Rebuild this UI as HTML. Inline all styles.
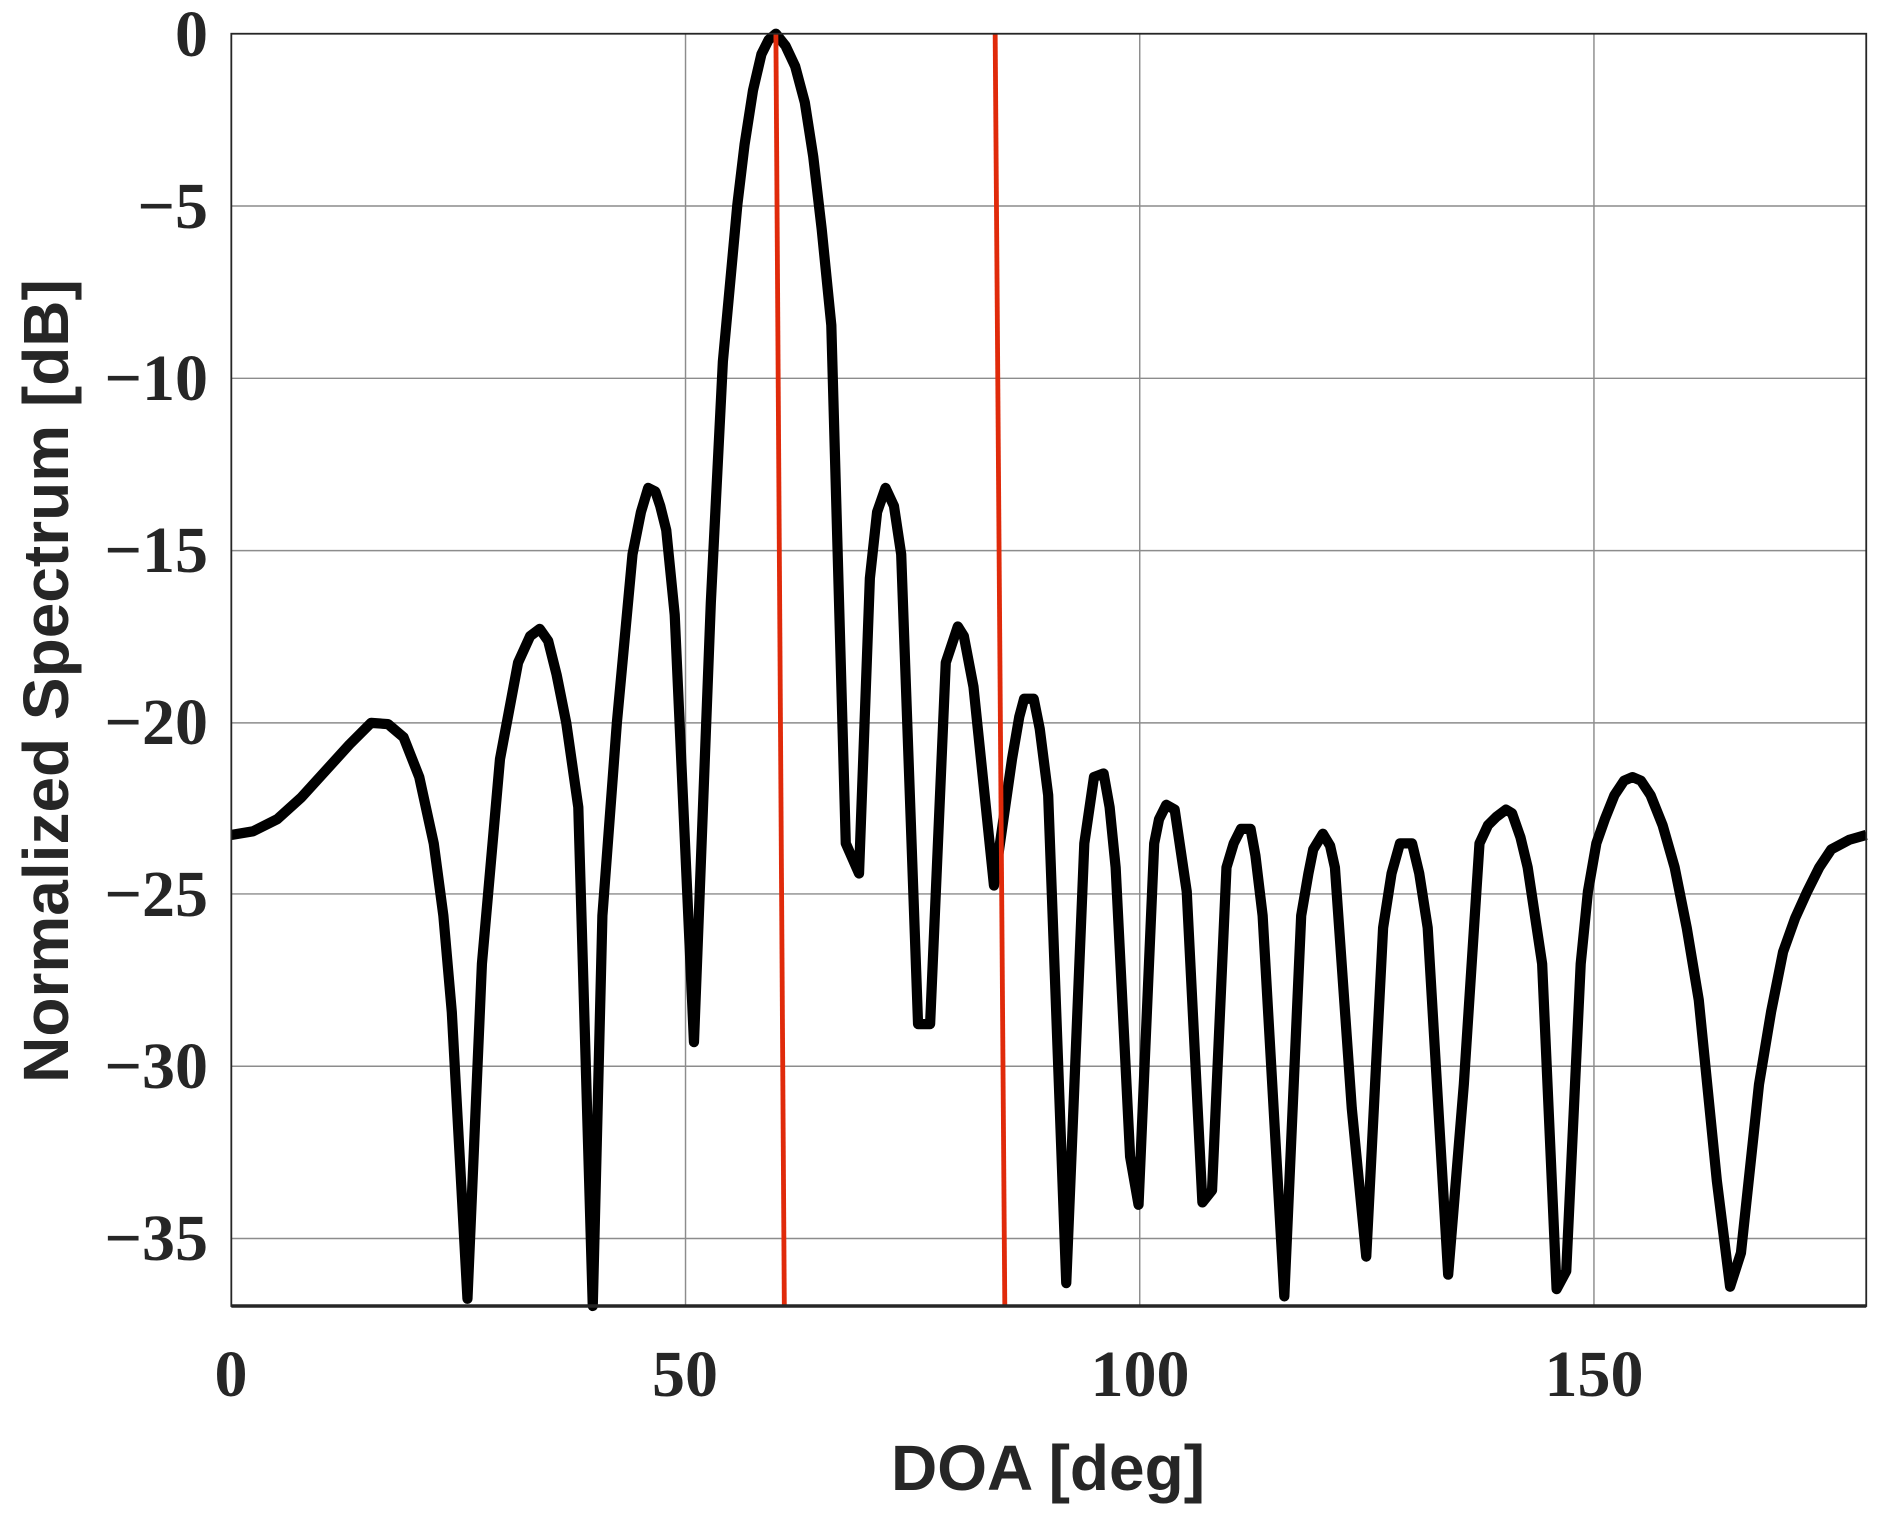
<!DOCTYPE html>
<html><head><style>body{margin:0;background:#fff}svg{display:block}</style></head>
<body>
<svg width="1880" height="1513" viewBox="0 0 1880 1513" xmlns="http://www.w3.org/2000/svg">
<rect width="1880" height="1513" fill="#fff"/>
<g transform="scale(1.2048)">
<g stroke="#8c8c8c" stroke-width="1.2">
<line x1="569" y1="28" x2="569" y2="1084"/><line x1="946" y1="28" x2="946" y2="1084"/><line x1="1323" y1="28" x2="1323" y2="1084"/>
<line x1="192" y1="171" x2="1549" y2="171"/><line x1="192" y1="314" x2="1549" y2="314"/><line x1="192" y1="457" x2="1549" y2="457"/>
<line x1="192" y1="600" x2="1549" y2="600"/><line x1="192" y1="742" x2="1549" y2="742"/><line x1="192" y1="885" x2="1549" y2="885"/><line x1="192" y1="1028" x2="1549" y2="1028"/>
</g>
<polyline fill="none" stroke="#000" stroke-width="8.5" stroke-linejoin="round" points="192,693 210,690 230,680 250,662 270,640 290,618 308,600 322,601 335,612 348,645 360,700 368,760 375,840 388,1078 400,800 415,630 430,550 440,528 448,522 455,532 462,560 470,600 480,670 492,1084 500,760 512,600 525,460 532,425 538,405 544,408 548,420 553,440 560,510 576,865 590,500 600,300 612,170 618,120 625,75 632,45 638,33 644,28 652,38 660,55 668,85 675,130 682,190 690,270 702,700 713,725 722,480 728,425 735,405 742,420 748,460 762,850 772,850 785,550 795,520 800,528 808,570 825,735 840,630 846,595 850,580 858,580 863,605 870,660 885,1065 900,700 908,645 916,642 921,670 926,720 938,960 945,1000 958,700 962,680 968,668 975,672 985,740 998,998 1006,988 1018,720 1024,700 1030,688 1038,688 1042,710 1048,760 1066,1076 1080,760 1086,725 1090,705 1098,692 1104,702 1108,720 1122,920 1134,1043 1148,770 1155,725 1162,700 1172,700 1178,725 1185,770 1202,1058 1215,900 1228,700 1235,685 1242,678 1250,672 1255,675 1262,695 1268,720 1280,800 1292,1070 1300,1055 1312,800 1318,740 1325,700 1332,680 1340,660 1348,648 1355,645 1362,648 1370,660 1380,685 1390,720 1400,770 1410,830 1425,980 1436,1068 1445,1040 1460,900 1470,840 1480,790 1490,762 1500,740 1510,720 1520,705 1535,697 1549,693"/>
<line x1="644" y1="28" x2="651" y2="1084" stroke="#e02a0a" stroke-width="4"/>
<line x1="826" y1="28" x2="834" y2="1084" stroke="#e02a0a" stroke-width="4"/>
<rect x="192" y="28" width="1357" height="1056" fill="none" stroke="#262626" stroke-width="1.5"/>
<line x1="192" y1="1084" x2="1549" y2="1084" stroke="#262626" stroke-width="3"/>
</g>
<g font-family="Liberation Serif, serif" font-weight="bold" font-size="66" fill="#262626" text-anchor="end">
<text x="208" y="56">0</text><text x="208" y="228">−5</text><text x="208" y="400">−10</text><text x="208" y="572">−15</text>
<text x="208" y="744">−20</text><text x="208" y="916">−25</text><text x="208" y="1088">−30</text><text x="208" y="1260">−35</text>
</g>
<g font-family="Liberation Serif, serif" font-weight="bold" font-size="66" fill="#262626" text-anchor="middle">
<text x="231" y="1396">0</text><text x="685" y="1396">50</text><text x="1140" y="1396">100</text><text x="1594" y="1396">150</text>
</g>
<text x="1048" y="1490" font-family="Liberation Sans, sans-serif" font-weight="bold" font-size="64" fill="#262626" text-anchor="middle">DOA [deg]</text>
<text transform="translate(68,681) rotate(-90)" font-family="Liberation Sans, sans-serif" font-weight="bold" font-size="64" fill="#262626" text-anchor="middle">Normalized Spectrum [dB]</text>
</svg>
</body></html>
